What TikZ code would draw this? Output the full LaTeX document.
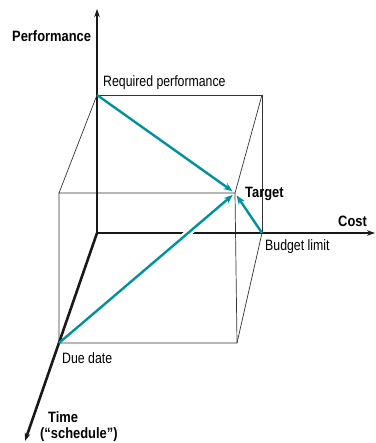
\documentclass[tikz,border=0pt]{standalone}
\usepackage{fontspec}
\setmainfont{Liberation Sans}[FakeStretch=0.82,BoldFeatures={FakeStretch=0.86}]
\usetikzlibrary{arrows.meta,calc}
\definecolor{tealvec}{RGB}{0,146,156}
\begin{document}
\begin{tikzpicture}[x=1pt,y=-1pt,
  axis/.style={line width=2.6pt, black!90, -{Stealth[length=8pt,width=5.5pt]}},
  thinline/.style={line width=0.7pt, black!80},
  vec/.style={line width=2.4pt, tealvec, -{Stealth[length=9pt,width=7pt]}, shorten >=3pt},
  lbl/.style={inner sep=0pt, anchor=base west, font=\fontsize{15}{17}\selectfont},
  blbl/.style={inner sep=0pt, anchor=base west, font=\fontsize{15}{17}\selectfont\bfseries}]
\useasboundingbox (0,0) rectangle (375,443);
% cube points
\coordinate (O) at (97,233);
\coordinate (A) at (97,95);
\coordinate (B) at (262,95);
\coordinate (C) at (262,233);
\coordinate (D) at (59,193);
\coordinate (T) at (235,193);
\coordinate (E) at (59,343);
\coordinate (F) at (237,343);
\coordinate (Ptip) at (97,9);
\coordinate (Ctip) at (375,233);
\coordinate (Ttip) at (25,441);
% thin edges
\draw[thinline] (A) -- (B) -- (C);
\draw[thinline] (A) -- (D) -- (T) -- (B);
\draw[thinline] (D) -- (E) -- (F) -- (C);
\draw[thinline] (T) -- (F);
% axes
\draw[axis] (O) -- (Ptip);
\draw[axis] (O) -- (Ctip);
\draw[axis] (O) -- (Ttip);
% vectors
\draw[line width=7pt, white] ($(E)!0.65!(T)$) -- ($(E)!0.82!(T)$);
\draw[vec] (A) -- (T);
\draw[vec] (E) -- (T);
\draw[vec] (C) -- (T);
% labels
\node[blbl] (lperf) at (12,42) {Performance};
\node[lbl] (lreq) at (103,87) {Required performance};
\node[blbl] (ltarget) at (245,197) {Target};
\node[blbl] (lcost) at (338,226) {Cost};
\node[lbl] (lbudget) at (265,250) {Budget limit};
\node[lbl] (ldue) at (62,363) {Due date};
\node[blbl] (ltime) at (48,422) {Time};
\node[blbl] (lsched) at (40,438) {(“schedule”)};
\end{tikzpicture}
\end{document}
